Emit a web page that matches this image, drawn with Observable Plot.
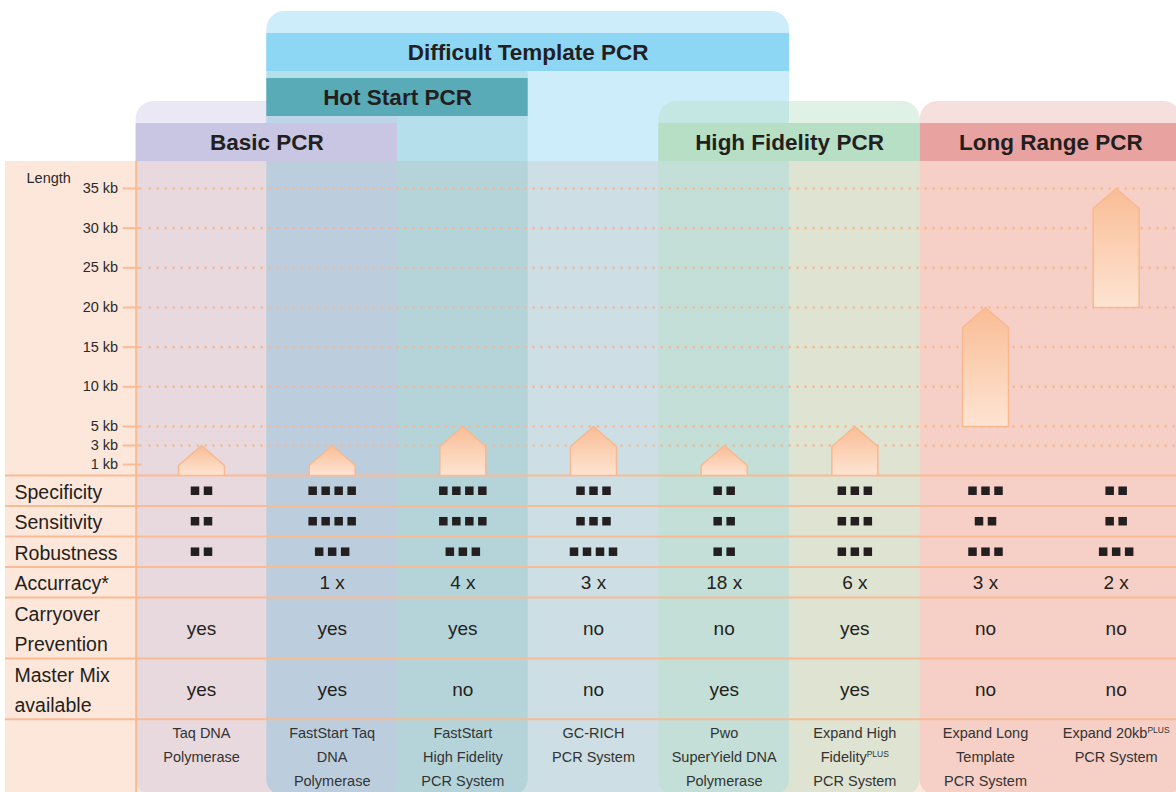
<!DOCTYPE html>
<html><head><meta charset="utf-8">
<script src="https://cdn.jsdelivr.net/npm/d3@7"></script>
<script src="https://cdn.jsdelivr.net/npm/@observablehq/plot@0.6"></script>
<style>
html,body{margin:0;padding:0;background:#fff;}
#chart{width:1176px;}
#chart svg{display:block;overflow:hidden;}
</style></head><body><div id="chart"></div>
<script>
// ---------------- data ----------------
const products = ["Taq DNA\nPolymerase", "FastStart Taq\nDNA\nPolymerase", "FastStart\nHigh Fidelity\nPCR System", "GC-RICH\nPCR System", "Pwo\nSuperYield DNA\nPolymerase", "Expand High\nFidelityPLUS\nPCR System", "Expand Long\nTemplate\nPCR System", "Expand 20kbPLUS\nPCR System"];
const groupNames = ["Difficult Template PCR", "Hot Start PCR", "Basic PCR", "High Fidelity PCR", "Long Range PCR"];
const groupFirst = [1, 1, 0, 4, 6];
const groupLast = [4, 2, 1, 5, 7];
const groupTier = [2, 1, 0, 0, 0];
const groupColors = ["#8dd6f4", "#5aabb8", "#c8c6e3", "#b7dfc6", "#e8a3a0"];
const groupAlpha = [0.43, 0.22, 0.4, 0.43, 0.35];
const lengthMin = [0, 0, 0, 0, 0, 0, 5, 20];
const lengthMax = [3, 3, 5, 5, 3, 5, 20, 35];
const lengthTicks = [1, 3, 5, 10, 15, 20, 25, 30, 35];
const gridTicks = [3, 5, 10, 15, 20, 25, 30, 35];
const rowLabels = ["Specificity", "Sensitivity", "Robustness", "Accurracy*", "Carryover\nPrevention", "Master Mix\navailable", ""];
const rowLines = [1, 1, 1, 1, 2, 2, 2.4];
const specificity = [2, 4, 4, 3, 2, 3, 3, 2];
const sensitivity = [2, 4, 4, 3, 2, 3, 2, 2];
const robustness = [2, 3, 3, 4, 2, 3, 3, 3];
const accuracy = ["", "1 x", "4 x", "3 x", "18 x", "6 x", "3 x", "2 x"];
const carryover = ["yes", "yes", "yes", "no", "no", "yes", "no", "no"];
const masterMix = ["yes", "yes", "no", "no", "yes", "yes", "no", "no"];

// ---------------- styling / layout ----------------
const FONT = "'Liberation Sans', Arial, Helvetica, sans-serif";
const INK = "#231f20";
const LINE = "#f9bb94";
const PEACH = "#fde7da";
const W = 1176;
const xOpt = {domain: [-1, 8], range: [5, 1181], axis: null};
// the length axis is stretched below 5 kb: piecewise kb -> pixels above the baseline
const kbWarp = d3.scaleLinear([0, 1, 3, 5, 35], [0, 11, 30, 49, 287]);
const yLenOpt = {transform: kb => kbWarp(kb), domain: [0, 314], range: [314, 0], axis: null};
const style = {fontFamily: FONT, background: "transparent", color: INK};

const groups = groupNames.map((name, i) => ({
  name, x1: groupFirst[i], x2: groupLast[i] + 1, tier: groupTier[i],
  color: groupColors[i], alpha: groupAlpha[i]
}));
const cols = products.map((p, i) => i);
const chart = document.getElementById("chart");

// ---------- 1) group headers ----------
const head = Plot.plot({
  width: W, height: 161, margin: 0, style,
  x: xOpt,
  y: {type: "band", domain: [2, 1, 0], range: [33, 161], paddingInner: 0.156, paddingOuter: 0, axis: null},
  color: {type: "identity"}, opacity: {type: "identity"},
  marks: [
    Plot.barX(groups, {x1: "x1", x2: "x2", y: "tier", fill: "color", fillOpacity: "alpha",
      insetTop: -22, insetBottom: -200, rx: 18, clip: true}),
    Plot.barX(groups, {x1: "x1", x2: "x2", y: "tier", fill: "color"}),
    Plot.text(groups, {x: d => (d.x1 + d.x2) / 2, y: "tier", text: "name", fontSize: 22.5,
      fontWeight: "bold", fill: INK})
  ]
});
chart.appendChild(head);

// ---------- 2) length chart ----------
// helpers to convert the pixel size of the arrow shape into data units
const xs = d3.scaleLinear(xOpt.domain, xOpt.range);
const half = xs.invert(xs(0) + 23) - 0;
const roofPx = 20;
const arrowPts = cols.flatMap(i => {
  const c = i + 0.5, lo = lengthMin[i], hi = lengthMax[i];
  const sh = kbWarp.invert(kbWarp(hi) - roofPx);
  return [[c - half, lo], [c - half, sh], [c, hi], [c + half, sh], [c + half, lo]]
    .map(([x, y]) => ({p: i, x, y}));
});

const mid = Plot.plot({
  width: W, height: 314, margin: 0, style,
  x: xOpt, y: yLenOpt,
  color: {type: "identity"}, opacity: {type: "identity"},
  marks: [
    Plot.rect([0], {x1: -1, x2: 8, fill: PEACH}),
    Plot.rect(groups, {x1: "x1", x2: "x2", fill: "color", fillOpacity: "alpha"}),
    Plot.ruleY(gridTicks, {y: d => d, x1: 0, x2: 8, insetLeft: 14, stroke: "#f7b78e", strokeWidth: 2.6,
      strokeDasharray: "0 8", strokeLinecap: "round"}),
    Plot.ruleX([0], {stroke: LINE, strokeWidth: 2}),
    Plot.ruleY(lengthTicks, {y: d => d, x1: 0, x2: 0, insetLeft: -13, insetRight: -6, stroke: LINE, strokeWidth: 2}),
    Plot.ruleY([0], {x1: -1, x2: 8, stroke: LINE, strokeWidth: 2}),
    Plot.text(lengthTicks, {y: d => d, x: 0, text: d => d + " kb", textAnchor: "end", dx: -18,
      fontSize: 14.5, fill: "#2a2a2a"}),
    Plot.text(["Length"], {x: -1, y: 35, text: d => d, textAnchor: "start", dx: 21, dy: -10,
      fontSize: 14.5, fill: "#2a2a2a"}),
    Plot.line(arrowPts, {x: "x", y: "y", z: "p", curve: "linear-closed",
      fill: "url(#arrowGrad)", stroke: "#f8b890", strokeWidth: 1.5})
  ]
});
const defs = d3.select(mid).insert("defs", ":first-child");
const grad = defs.append("linearGradient").attr("id", "arrowGrad")
  .attr("x1", 0).attr("y1", 0).attr("x2", 0).attr("y2", 1);
grad.append("stop").attr("offset", "0%").attr("stop-color", "#f9bd95");
grad.append("stop").attr("offset", "100%").attr("stop-color", "#fee4d3");
chart.appendChild(mid);

// ---------- 3) table ----------
const rowTop = rowLines.map((d, i) => d3.sum(rowLines.slice(0, i)));
const rowBottom = rowTop.map((t, i) => t + rowLines[i]);
const rowMid = rowTop.map((t, i) => (t + rowBottom[i]) / 2);
const total = d3.sum(rowLines);
const pitch = xs.invert(xs(0) + 13) - 0;

const squares = [specificity, sensitivity, robustness].flatMap((vals, r) =>
  vals.flatMap((n, i) => d3.range(n).map(k => ({r, i, k, n}))));
const cellText = [[3, accuracy], [4, carryover], [5, masterMix]].flatMap(([r, vals]) =>
  vals.map((v, i) => ({r, i, v})));

const bot = Plot.plot({
  width: W, height: 317, margin: 0, style,
  x: xOpt, y: {domain: [0, total], range: [0, 317], axis: null},
  color: {type: "identity"}, opacity: {type: "identity"},
  marks: [
    Plot.rect([0], {x1: -1, x2: 8, fill: PEACH}),
    Plot.rect(groups, {x1: "x1", x2: "x2", y1: 0, y2: total + 0.1, insetTop: -40, rx: 16,
      fill: "color", fillOpacity: "alpha", clip: true}),
    Plot.ruleX([0], {stroke: LINE, strokeWidth: 2}),
    Plot.ruleY(rowTop, {y: d => d, x1: -1, x2: 8, stroke: LINE, strokeWidth: 2}),
    Plot.text(rowLabels, {x: -1, y: (d, i) => rowMid[i], text: d => d, textAnchor: "start", dx: 9,
      lineAnchor: "middle", lineHeight: 1.54, fontSize: 19.5, fill: INK, dy: -1.5}),
    Plot.dot(squares, {x: d => d.i + 0.5 + (d.k - (d.n - 1) / 2) * pitch, y: d => rowMid[d.r],
      symbol: "square", r: 4.8, fill: INK, stroke: "none"}),
    Plot.text(cellText, {x: d => d.i + 0.5, y: d => rowMid[d.r], text: "v", fontSize: 19, fill: INK, dy: 1}),
    Plot.text(products, {x: (d, i) => i + 0.5, y: rowTop[6], text: d => d, lineAnchor: "top",
      lineHeight: 1.655, fontSize: 14.5, fill: "#333", dy: 2})
  ]
});
chart.appendChild(bot);

// superscript "PLUS"
d3.select(bot).selectAll("tspan").each(function() {
  const t = this.textContent;
  const j = t.indexOf("PLUS");
  if (j >= 0 && this.children.length === 0) {
    const sel = d3.select(this);
    sel.text(t.slice(0, j));
    sel.append("tspan").attr("font-size", 8.5).attr("baseline-shift", "super").text("PLUS");
  }
});
</script></body></html>
